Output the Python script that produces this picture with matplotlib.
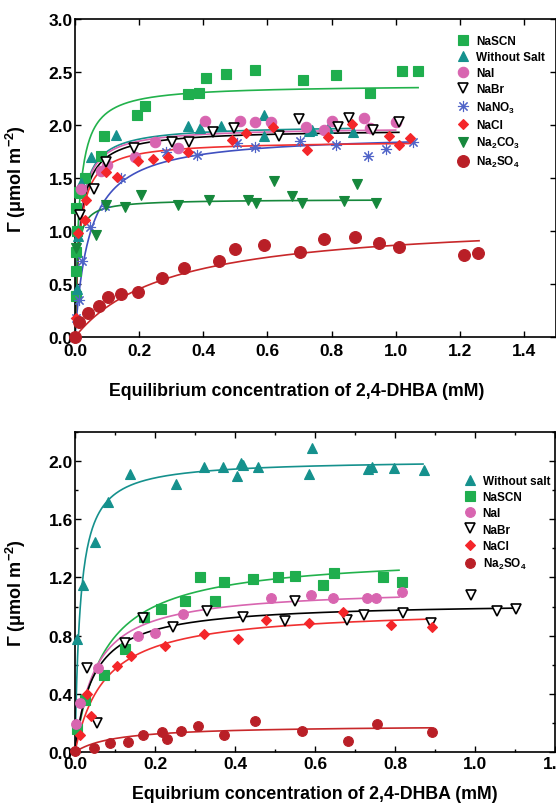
import numpy as np
import matplotlib
matplotlib.use("Agg")
import matplotlib.pyplot as plt
from matplotlib.ticker import MultipleLocator, FormatStrFormatter

plt.rcParams['font.family'] = ['Liberation Sans', 'DejaVu Sans']
plt.rcParams['font.weight'] = 'bold'
plt.rcParams['mathtext.fontset'] = 'custom'
plt.rcParams['mathtext.rm'] = 'Liberation Sans:bold'
plt.rcParams['mathtext.it'] = 'Liberation Sans:bold'
plt.rcParams['mathtext.bf'] = 'Liberation Sans:bold'
plt.rcParams['mathtext.default'] = 'rm'

# ---------------- TOP PANEL DATA ----------------
top_names = ['NaSCN', 'Without Salt', 'NaI', 'NaBr', 'NaNO$_3$', 'NaCl', 'Na$_2$CO$_3$', 'Na$_2$SO$_4$']

top_nascn_c = [0.004, 0.002, 0.003, 0.006, 0.004, 0.0125, 0.015, 0.031, 0.081, 0.089, 0.193, 0.218, 0.353, 0.388, 0.41, 0.47, 0.56, 0.7125, 0.815, 0.919, 1.02, 1.07]
top_nascn_g = [0.39, 0.62, 0.80, 1.00, 1.22, 1.37, 1.36, 1.50, 1.71, 1.90, 2.09, 2.18, 2.29, 2.30, 2.44, 2.48, 2.52, 2.42, 2.47, 2.30, 2.51, 2.51]

top_ws_c = [0.005, 0.01, 0.02, 0.05, 0.129, 0.351, 0.39, 0.455, 0.59, 0.59, 0.731, 0.74, 0.79, 0.867]
top_ws_g = [0.45, 0.95, 1.45, 1.70, 1.91, 1.99, 1.97, 1.99, 2.09, 1.90, 1.94, 1.95, 1.97, 1.93]

top_nai_c = [0.02, 0.08, 0.1, 0.1875, 0.249, 0.32, 0.405, 0.515, 0.56, 0.61, 0.72, 0.778, 0.80, 0.90, 0.92, 1.00]
top_nai_g = [1.40, 1.57, 1.62, 1.70, 1.84, 1.78, 2.04, 2.04, 2.03, 2.03, 1.98, 1.95, 2.04, 2.07, 1.97, 2.03]

top_nabr_c = [0.015, 0.059, 0.096, 0.184, 0.304, 0.356, 0.43, 0.497, 0.6375, 0.70, 0.82, 0.853, 0.93, 1.01]
top_nabr_g = [1.15, 1.40, 1.65, 1.78, 1.84, 1.84, 1.93, 1.97, 1.90, 2.06, 1.98, 2.07, 1.95, 2.03]

top_nano3_c = [0.003, 0.0125, 0.023, 0.046, 0.094, 0.143, 0.283, 0.382, 0.504, 0.5625, 0.702, 0.8125, 0.914, 0.97, 1.054]
top_nano3_g = [0.18, 0.35, 0.72, 1.04, 1.24, 1.50, 1.75, 1.72, 1.83, 1.79, 1.85, 1.81, 1.71, 1.77, 1.84]

top_nacl_c = [0.003, 0.01, 0.031, 0.033, 0.098, 0.13, 0.195, 0.242, 0.289, 0.351, 0.49, 0.533, 0.617, 0.724, 0.79, 0.865, 0.978, 1.01, 1.046]
top_nacl_g = [0.18, 0.98, 1.10, 1.29, 1.56, 1.51, 1.66, 1.68, 1.70, 1.75, 1.86, 1.92, 1.98, 1.76, 1.89, 2.01, 1.90, 1.81, 1.88]

top_na2co3_c = [0.004, 0.065, 0.096, 0.156, 0.205, 0.32, 0.419, 0.539, 0.565, 0.622, 0.677, 0.707, 0.84, 0.879, 0.94]
top_na2co3_g = [0.84, 0.96, 1.25, 1.23, 1.34, 1.25, 1.29, 1.29, 1.26, 1.47, 1.33, 1.26, 1.28, 1.44, 1.26]

top_na2so4_c = [0.0, 0.0125, 0.042, 0.075, 0.104, 0.145, 0.198, 0.27, 0.339, 0.45, 0.50, 0.59, 0.703, 0.775, 0.872, 0.948, 1.01, 1.2125, 1.257]
top_na2so4_g = [0.0, 0.14, 0.225, 0.29, 0.38, 0.41, 0.42, 0.56, 0.655, 0.72, 0.83, 0.87, 0.80, 0.925, 0.946, 0.89, 0.846, 0.77, 0.79]

# Langmuir fit parameters (Gamma_max, K, end of fitted range)
top_fit_gmax = [2.38, 2.00, 1.98, 1.96, 1.92, 1.85, 1.30, 1.12]
top_fit_k = [80, 70, 70, 65, 22, 70, 150, 3.4]
top_fit_end = [1.07, 0.87, 1.00, 1.01, 1.054, 1.046, 0.95, 1.26]

# ---------------- BOTTOM PANEL DATA ----------------
bot_names = ['Without salt', 'NaSCN', 'NaI', 'NaBr', 'NaCl', 'Na$_2$SO$_4$']

bot_ws_c = [0.005, 0.021, 0.05, 0.082, 0.1375, 0.252, 0.323, 0.369, 0.404, 0.414, 0.421, 0.457, 0.592, 0.586, 0.732, 0.742, 0.798, 0.873]
bot_ws_g = [0.78, 1.15, 1.445, 1.716, 1.91, 1.84, 1.96, 1.96, 1.90, 1.99, 1.97, 1.96, 2.09, 1.91, 1.945, 1.96, 1.95, 1.94]

bot_nascn_c = [0.006, 0.025, 0.0725, 0.125, 0.173, 0.215, 0.276, 0.313, 0.35, 0.373, 0.446, 0.508, 0.55, 0.621, 0.648, 0.77, 0.817]
bot_nascn_g = [0.16, 0.36, 0.53, 0.71, 0.93, 0.98, 1.04, 1.20, 1.04, 1.17, 1.19, 1.20, 1.21, 1.15, 1.23, 1.205, 1.17]

bot_nai_c = [0.0025, 0.0125, 0.058, 0.158, 0.2, 0.269, 0.49, 0.589, 0.644, 0.73, 0.753, 0.817]
bot_nai_g = [0.19, 0.34, 0.58, 0.80, 0.82, 0.95, 1.06, 1.08, 1.06, 1.06, 1.06, 1.10]

bot_nabr_c = [0.031, 0.054, 0.125, 0.171, 0.244, 0.329, 0.421, 0.525, 0.55, 0.681, 0.723, 0.821, 0.89, 0.989, 1.054, 1.103]
bot_nabr_g = [0.58, 0.20, 0.75, 0.92, 0.86, 0.97, 0.93, 0.90, 1.04, 0.91, 0.94, 0.955, 0.89, 1.08, 0.97, 0.98]

bot_nacl_c = [0.0, 0.0125, 0.031, 0.04, 0.105, 0.14, 0.224, 0.323, 0.407, 0.478, 0.586, 0.671, 0.79, 0.893]
bot_nacl_g = [0.01, 0.12, 0.40, 0.25, 0.59, 0.66, 0.73, 0.81, 0.78, 0.91, 0.884, 0.96, 0.873, 0.857]

bot_na2so4_c = [0.0, 0.048, 0.0875, 0.133, 0.17, 0.217, 0.229, 0.265, 0.308, 0.373, 0.45, 0.567, 0.683, 0.754, 0.893]
bot_na2so4_g = [0.01, 0.03, 0.06, 0.07, 0.12, 0.135, 0.09, 0.147, 0.18, 0.117, 0.215, 0.142, 0.078, 0.19, 0.14]

bot_fit_gmax = [2.01, 1.36, 1.13, 1.03, 0.99, 0.185]
bot_fit_k = [75, 14, 20, 22, 13.5, 10]
bot_fit_end = [0.87, 0.81, 0.81, 1.11, 0.89, 0.89]

# ---------------- STYLES ----------------
top_styles = [
    dict(marker='s', color='#1fae4e', ms=7.0, mec='#1fae4e', line='#22b24c'),
    dict(marker='^', color='#15918d', ms=7.0, mec='#15918d', line='#15918d'),
    dict(marker='o', color='#d865b0', ms=7.5, mec='#d865b0', line='#d865b0'),
    dict(marker='v', color='white', ms=7.5, mec='black', line='black'),
    dict(marker=(8, 2, 0), color='#5064c8', ms=8.0, mec='#5064c8', line='#4050c0'),
    dict(marker='D', color='#f4262a', ms=5.5, mec='#f4262a', line='#f03030'),
    dict(marker='v', color='#16883c', ms=7.5, mec='#16883c', line='#16883c'),
    dict(marker='o', color='#b91f27', ms=8.5, mec='#b91f27', line='#c8282a'),
]
bot_styles = [
    dict(marker='^', color='#15918d', ms=6.5, mec='#15918d', line='#15918d'),
    dict(marker='s', color='#1fae4e', ms=6.5, mec='#1fae4e', line='#22b24c'),
    dict(marker='o', color='#d865b0', ms=7.0, mec='#d865b0', line='#d865b0'),
    dict(marker='v', color='white', ms=7.0, mec='black', line='black'),
    dict(marker='D', color='#f4262a', ms=5.0, mec='#f4262a', line='#f03030'),
    dict(marker='o', color='#b91f27', ms=7.0, mec='#b91f27', line='#c8282a'),
]

top_series = [(top_nascn_c, top_nascn_g), (top_ws_c, top_ws_g), (top_nai_c, top_nai_g),
              (top_nabr_c, top_nabr_g), (top_nano3_c, top_nano3_g), (top_nacl_c, top_nacl_g),
              (top_na2co3_c, top_na2co3_g), (top_na2so4_c, top_na2so4_g)]
bot_series = [(bot_ws_c, bot_ws_g), (bot_nascn_c, bot_nascn_g), (bot_nai_c, bot_nai_g),
              (bot_nabr_c, bot_nabr_g), (bot_nacl_c, bot_nacl_g), (bot_na2so4_c, bot_na2so4_g)]


def langmuir(c, gmax, k):
    return gmax * k * c / (1.0 + k * c)


fig = plt.figure(figsize=(5.56, 8.04), dpi=100)
ax1 = fig.add_axes([75 / 556, 1 - 338 / 804, 481 / 556, 318 / 804])
ax2 = fig.add_axes([75 / 556, 1 - 753 / 804, 480 / 556, 320 / 804])


def draw(ax, names, series, styles, gmaxs, ks, ends):
    for st, g, k, e in zip(styles, gmaxs, ks, ends):
        xx = np.linspace(0, e, 400)
        ax.plot(xx, langmuir(xx, g, k), color=st['line'], lw=1.2, zorder=2)
    handles = []
    for name, (c, gm), st in zip(names, series, styles):
        h, = ax.plot(c, gm, linestyle='none', marker=st['marker'], ms=st['ms'],
                     mfc=st['color'], mec=st['mec'], mew=1.2 if st['color'] == 'white' else 0.8,
                     label=name, zorder=3, clip_on=False)
        handles.append(h)
    return handles


h1 = draw(ax1, top_names, top_series, top_styles, top_fit_gmax, top_fit_k, top_fit_end)
h2 = draw(ax2, bot_names, bot_series, bot_styles, bot_fit_gmax, bot_fit_k, bot_fit_end)

for ax in (ax1, ax2):
    for sp in ax.spines.values():
        sp.set_linewidth(1.2)
    ax.tick_params(which='both', direction='in', top=True, right=True, width=1.0)
    ax.tick_params(which='major', length=4.5, labelsize=12.5)
    ax.tick_params(which='minor', length=2.5)
    ax.set_ylabel('Γ (μmol m$^{-2}$)', fontsize=13, fontweight='bold')
    ax.yaxis.set_label_coords(-0.098, 0.5)
    ax.xaxis.label.set_verticalalignment('center')

ax1.set_xlim(0, 1.5)
ax1.set_ylim(0, 3.0)
ax1.xaxis.set_major_locator(MultipleLocator(0.2))
ax1.yaxis.set_major_locator(MultipleLocator(0.5))
ax1.xaxis.set_major_formatter(FormatStrFormatter('%.1f'))
ax1.yaxis.set_major_formatter(FormatStrFormatter('%.1f'))
ax1.tick_params(axis='x', pad=4)
ax1.tick_params(axis='y', pad=1.5)
ax1.set_xlabel('Equilibrium concentration of 2,4-DHBA (mM)', fontsize=12.8, fontweight='bold',
               va='center')
ax1.xaxis.set_label_coords(0.46, -0.168)

ax2.set_xlim(0, 1.2)
ax2.set_ylim(0, 2.2)
ax2.xaxis.set_major_locator(MultipleLocator(0.2))
ax2.xaxis.set_minor_locator(MultipleLocator(0.1))
ax2.yaxis.set_major_locator(MultipleLocator(0.4))
ax2.yaxis.set_minor_locator(MultipleLocator(0.2))
ax2.xaxis.set_major_formatter(FormatStrFormatter('%.1f'))
ax2.yaxis.set_major_formatter(FormatStrFormatter('%.1f'))
ax2.tick_params(axis='x', pad=3)
ax2.tick_params(axis='y', pad=1.5)
ax2.set_xlabel('Equibrium concentration of 2,4-DHBA (mM)', fontsize=12.8, fontweight='bold',
               va='center')
ax2.xaxis.set_label_coords(0.5, -0.131)

leg_kw = dict(frameon=False, fontsize=8.5, handlelength=1.0, handletextpad=0.6,
              borderpad=0, borderaxespad=0, labelspacing=0.35, loc='upper left')
ax1.legend(handles=h1, bbox_to_anchor=(0.794, 0.95), **leg_kw)
ax2.legend(handles=h2, bbox_to_anchor=(0.81, 0.865), **leg_kw)

fig.savefig('out.png', dpi=100)
